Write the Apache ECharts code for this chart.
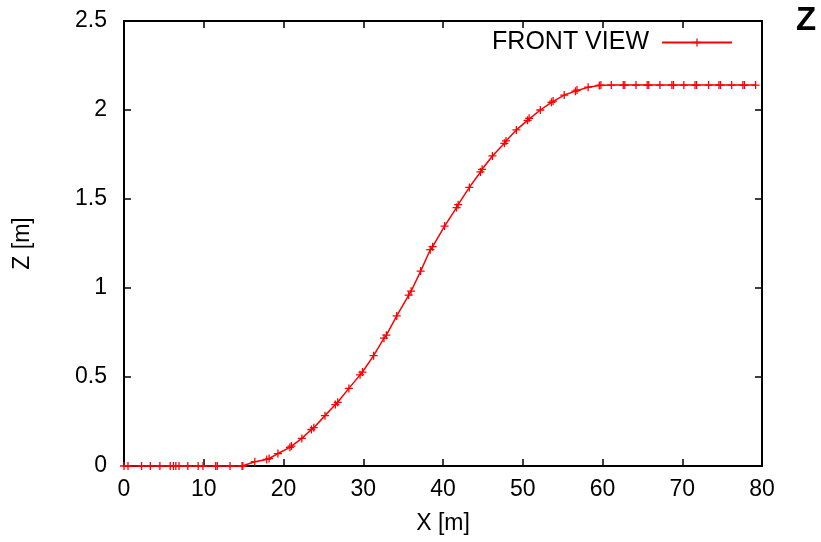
<!DOCTYPE html>
<html>
<head>
<meta charset="utf-8">
<script src="https://cdn.jsdelivr.net/npm/echarts@6/dist/echarts.min.js"></script>
<style>html,body{margin:0;padding:0;background:#fff}#c{width:821px;height:542px}</style>
</head>
<body>
<div id="c"></div>
<script>
var xValues = [0, 0.5, 2.2, 3.3, 4.5, 5.8, 6.2, 6.5, 6.9, 8, 9.3, 9.9, 11.5, 11.7, 13.3, 14.8, 14.9,
  16.4, 17.9, 18.2, 19.3, 20.8, 21.0, 22.3, 23.5, 23.8, 25.2, 26.5, 26.8, 28.2, 29.6, 29.9, 31.3, 32.6, 32.9,
  34.2, 35.7, 36.0, 37.2, 38.4, 38.7, 40.2, 41.7, 41.9, 43.3, 44.7, 44.9, 46.2, 47.7, 47.9, 49.2, 50.6, 50.8,
  52.2, 53.6, 53.8, 55.2, 56.6, 56.8, 58.2, 59.6, 59.8, 61.1, 62.6, 62.8, 64.2, 65.6, 65.8, 67.2, 68.7, 68.9,
  70.2, 71.6, 71.8, 73.3, 74.6, 74.8, 76.2, 77.6, 77.8, 79.2];
var zValues = [0, 0, 0, 0, 0, 0, 0, 0, 0, 0, 0, 0, 0, 0, 0, 0, 0,
  0.024, 0.037, 0.042, 0.07, 0.105, 0.112, 0.155, 0.205, 0.215, 0.283, 0.345, 0.358, 0.436, 0.512, 0.528, 0.62, 0.718, 0.735,
  0.843, 0.96, 0.982, 1.095, 1.215, 1.232, 1.348, 1.452, 1.468, 1.565, 1.652, 1.667, 1.742, 1.813, 1.826, 1.888, 1.942, 1.953,
  2.0, 2.043, 2.05, 2.084, 2.106, 2.112, 2.128, 2.138, 2.14, 2.14, 2.14, 2.14, 2.14, 2.14, 2.14, 2.14, 2.14, 2.14,
  2.14, 2.14, 2.14, 2.14, 2.14, 2.14, 2.14, 2.14, 2.14, 2.14];
var xTicks = {min: 0, max: 80, interval: 10};
var yTicks = {min: 0, max: 2.5, interval: 0.5};
var seriesName = 'FRONT VIEW';

var data = xValues.map(function (x, i) { return [x, zValues[i]]; });
var plus = 'path://M0,4.2 L10,4.2 L10,5.8 L0,5.8 Z M4.2,0 L5.8,0 L5.8,10 L4.2,10 Z';
var font = 'Liberation Sans, Arial, sans-serif';
var chart = echarts.init(document.getElementById('c'), null, {renderer: 'canvas'});
var axisCommon = {
  axisLine: {show: true, onZero: false, lineStyle: {color: '#000', width: 2}},
  axisTick: {show: true, inside: true, length: 7, lineStyle: {color: '#000', width: 1.5}},
  splitLine: {show: false},
  axisLabel: {color: '#000', fontSize: 23, fontFamily: font},
  nameTextStyle: {color: '#000', fontSize: 23, fontFamily: font}
};
chart.setOption({
  animation: false,
  backgroundColor: '#fff',
  grid: {left: 124, right: 59, top: 21, bottom: 76, show: true, borderColor: '#000', borderWidth: 2},
  legend: {
    data: [{name: seriesName}],
    right: 83, top: 25, align: 'right', itemWidth: 70, itemHeight: 10,
    textStyle: {color: '#000', fontSize: 25, fontFamily: font, padding: [0, 8, 0, 0]}
  },
  xAxis: [Object.assign({}, axisCommon, {
    type: 'value', min: xTicks.min, max: xTicks.max, interval: xTicks.interval,
    name: 'X [m]', nameLocation: 'middle', nameGap: 46,
    axisLabel: Object.assign({}, axisCommon.axisLabel, {margin: 12})
  }), Object.assign({}, axisCommon, {
    type: 'value', position: 'top', min: xTicks.min, max: xTicks.max, interval: xTicks.interval,
    axisLabel: {show: false}
  })],
  yAxis: [Object.assign({}, axisCommon, {
    type: 'value', min: yTicks.min, max: yTicks.max, interval: yTicks.interval,
    name: 'Z [m]', nameLocation: 'middle', nameGap: 90, nameRotate: 90,
    axisLabel: Object.assign({}, axisCommon.axisLabel, {margin: 17})
  }), Object.assign({}, axisCommon, {
    type: 'value', position: 'right', min: yTicks.min, max: yTicks.max, interval: yTicks.interval,
    axisLabel: {show: false}
  })],
  graphic: [{
    type: 'text', left: 796, top: 4,
    style: {text: 'Z', fill: '#000', fontSize: 33, fontWeight: 'bold', fontFamily: font}
  }],
  series: [{
    name: seriesName, type: 'line', data: data, clip: false,
    symbol: plus, symbolSize: 8, showSymbol: true,
    lineStyle: {color: '#ff0000', width: 1.5},
    itemStyle: {color: '#ff0000'}
  }]
});
</script>
</body>
</html>
